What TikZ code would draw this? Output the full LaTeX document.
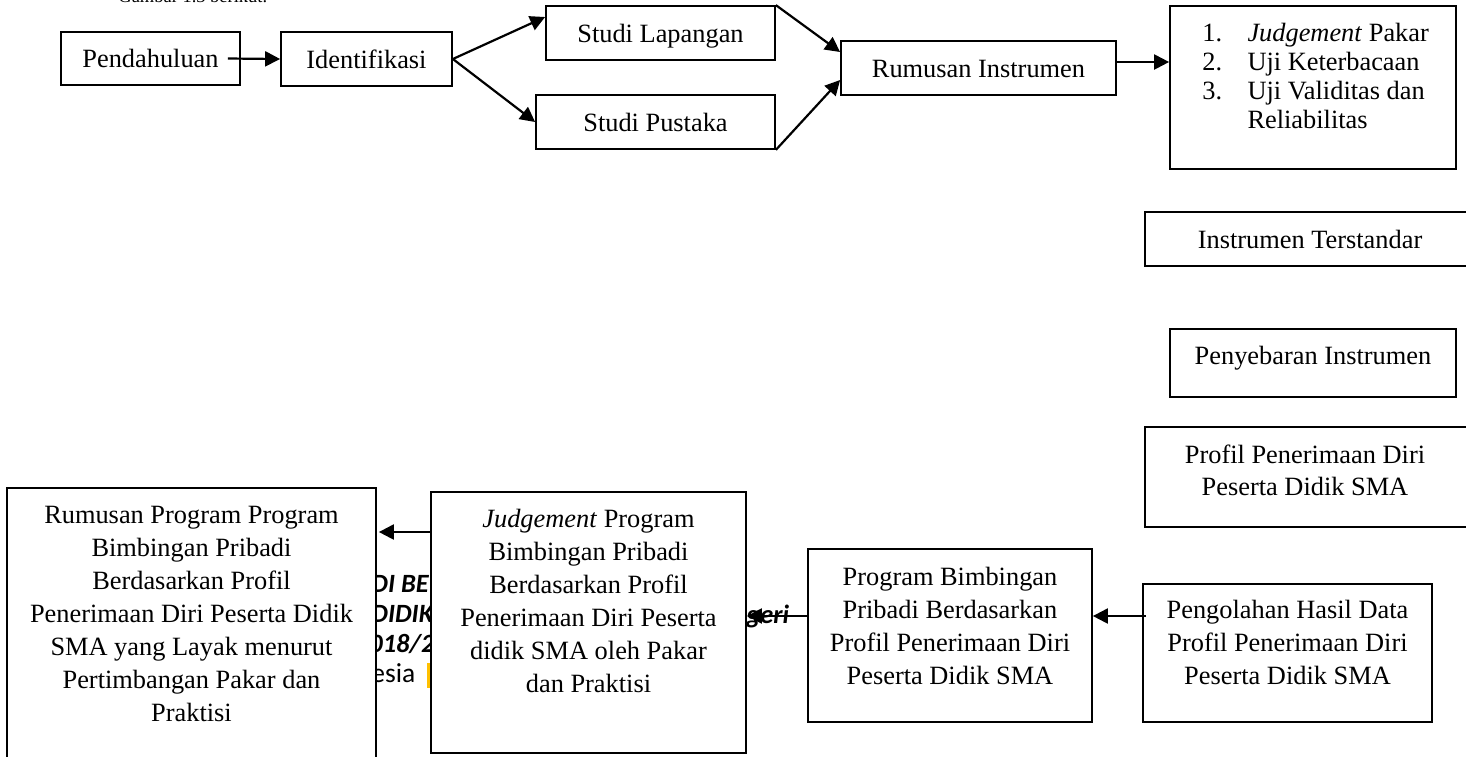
\documentclass[tikz,border=0pt]{standalone}
\usepackage{fontspec}
\setmainfont{Liberation Serif}
\newfontfamily\fragfont{Carlito}
\usetikzlibrary{arrows.meta}
\newcommand\unitpx{0.455pt}
\definecolor{fragyellow}{RGB}{255,192,0}
\begin{document}
\begin{tikzpicture}[x=\unitpx,y=-\unitpx,
  box/.style={draw,line width=.8pt,fill=white,inner sep=0pt,
    font=\fontsize{12}{15}\selectfont,text height=8.2pt,text depth=0pt},
  txt/.style={inner sep=0pt,align=center,font=\fontsize{12}{15}\selectfont},
  frag/.style={inner sep=0pt,font=\fragfont\fontsize{12}{15}\selectfont\bfseries\itshape},
  arr/.style={line width=1pt,-{Triangle[length=6.8pt,width=6.8pt]}}]
\useasboundingbox (0,0) rectangle (1466,756);
\clip (0,0) rectangle (1466,756);

% text of the page behind
\node[txt,anchor=base west,font=\fontsize{8.4}{10}\selectfont] (gbr) at (118,2) {Gambar 1.3 berikut.};
\node[frag,anchor=base west] (fr1) at (371,592) {DI BE};
\node[frag,anchor=base west] (fr2) at (371,622) {DIDIK};
\node[frag,anchor=base west] (fr3) at (369,652) {018/2};
\node[frag,anchor=base west,font=\fragfont\fontsize{12.5}{15}\selectfont] (fr4) at (371,682) {esia};
\fill[fragyellow] (427,663) rectangle (432,688);
\node[frag,anchor=base west] (fr5) at (746,623) {geri};

% top row
\node[box,minimum width=179*\unitpx,minimum height=53*\unitpx] (pend) at (150.5,58.5) {Pendahuluan};
\node[box,minimum width=171*\unitpx,minimum height=54*\unitpx] (iden) at (366.5,59) {Identifikasi};
\node[box,minimum width=229*\unitpx,minimum height=54*\unitpx] (lap) at (660.5,33) {Studi Lapangan};
\node[box,minimum width=239*\unitpx,minimum height=54*\unitpx] (pus) at (655.5,122) {Studi Pustaka};
\node[box,minimum width=275*\unitpx,minimum height=54*\unitpx] (rum) at (978.5,68) {Rumusan Instrumen};
\node[box,minimum width=286*\unitpx,minimum height=163*\unitpx] (uji) at (1313,87.5) {};
\node[txt,anchor=base west,align=left,font=\fontsize{12}{13.2}\selectfont] (ujit) at (1202,41)
  {\begin{tabular}[t]{@{}p{20.5pt}@{}l@{}}
   1.&\textit{Judgement} Pakar\\
   2.&Uji Keterbacaan\\
   3.&Uji Validitas dan\\
     &Reliabilitas
   \end{tabular}};

% right column
\node[box,minimum width=330*\unitpx,minimum height=54*\unitpx] (std) at (1310,239) {Instrumen Terstandar};
\node[box,minimum width=286*\unitpx,minimum height=68*\unitpx,text depth=6.4pt] (sebar) at (1313,363) {Penyebaran Instrumen};
\node[box,minimum width=330*\unitpx,minimum height=100*\unitpx] (profil) at (1310,477) {};
\node[txt,anchor=north] (profilt) at (1305,444) {Profil Penerimaan Diri\\Peserta Didik SMA};

% bottom row
\node[box,minimum width=289*\unitpx,minimum height=138*\unitpx] (olah) at (1287.5,653) {};
\node[txt,anchor=north] (olaht) at (1287.5,600) {Pengolahan Hasil Data\\Profil Penerimaan Diri\\Peserta Didik SMA};
\node[box,minimum width=284*\unitpx,minimum height=173*\unitpx] (prog) at (950,635.5) {};
\node[txt,anchor=north] (progt) at (950,567) {Program Bimbingan\\Pribadi Berdasarkan\\Profil Penerimaan Diri\\Peserta Didik SMA};
\node[box,minimum width=315*\unitpx,minimum height=261*\unitpx] (judg) at (588.5,622.5) {};
\node[txt,anchor=north] (judgt) at (588.5,509) {\textit{Judgement} Program\\Bimbingan Pribadi\\Berdasarkan Profil\\Penerimaan Diri Peserta\\didik SMA oleh Pakar\\dan Praktisi};
\node[box,minimum width=369*\unitpx,minimum height=282*\unitpx] (rpr) at (191.5,629) {};
\node[txt,anchor=north] (rprt) at (191.5,506) {Rumusan Program Program\\Bimbingan Pribadi\\Berdasarkan Profil\\Penerimaan Diri Peserta Didik\\SMA yang Layak menurut\\Pertimbangan Pakar dan\\Praktisi};

% connectors
\draw[arr] ([xshift=-13*\unitpx]pend.east) -- (iden.west);
\draw[arr] (iden.east) -- ([yshift=16*\unitpx]lap.west);
\draw[arr] (iden.east) -- (pus.west);
\draw[arr] (lap.north east) -- ([yshift=16*\unitpx]rum.west);
\draw[arr] (pus.south east) -- ([yshift=-12*\unitpx]rum.west);
\coordinate (rumout) at ([yshift=6*\unitpx]rum.east);
\draw[arr] (rumout) -- (rumout -| uji.west);
\coordinate (olahout) at ([xshift=4*\unitpx,yshift=37*\unitpx]olah.west);
\draw[arr] (olahout) -- (olahout -| prog.east);
\coordinate (progout) at ([yshift=19.5*\unitpx]prog.west);
\draw[arr] (progout) -- (progout -| judg.east);
\coordinate (judgout) at ([yshift=90.5*\unitpx]judg.west);
\draw[arr] (judgout) -- ([xshift=2*\unitpx]judgout -| rpr.east);
\end{tikzpicture}
\end{document}
